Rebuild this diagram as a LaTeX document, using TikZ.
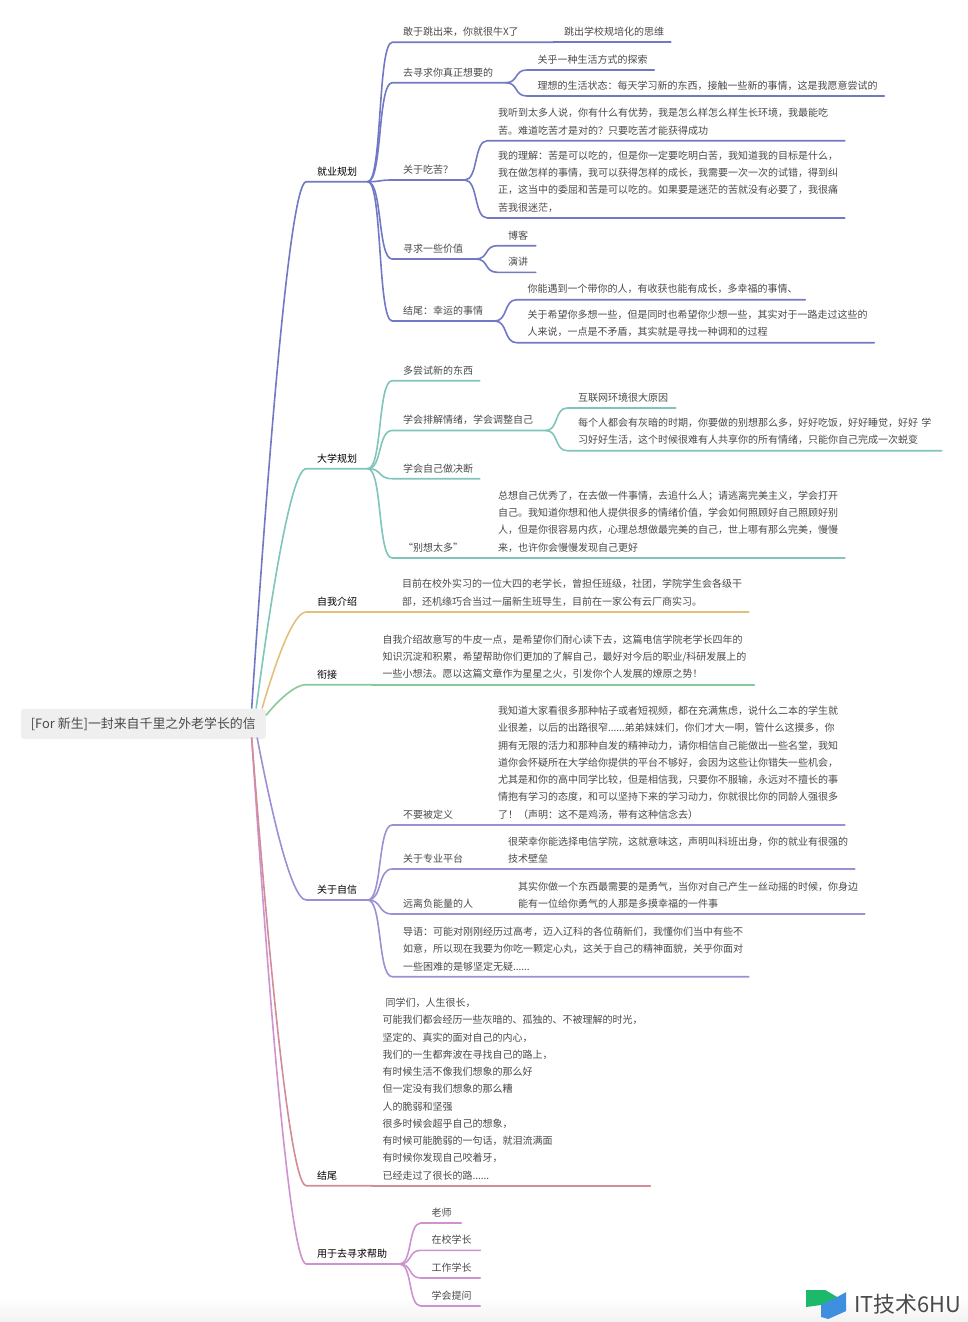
\documentclass[tikz,border=0pt]{standalone}
\usepackage{fontspec}
\setmainfont{Noto Sans CJK SC}
\usepackage{xcolor}
\usetikzlibrary{calc}
\definecolor{textgray}{HTML}{4A4A4A}
\definecolor{rootfill}{HTML}{EFEFEF}
\definecolor{linework}{HTML}{7179C4}
\definecolor{linecollege}{HTML}{80C4BA}
\definecolor{lineself}{HTML}{E2C07C}
\definecolor{linebridge}{HTML}{88C99A}
\definecolor{linefaith}{HTML}{9C90D4}
\definecolor{lineend}{HTML}{D18C98}
\definecolor{linehelp}{HTML}{CF92D0}
\definecolor{logogreen}{HTML}{1DB96A}
\definecolor{logoblue}{HTML}{3F8FE0}
\tikzset{
  topic/.style={anchor=south west,inner xsep=10pt,inner ysep=5pt,align=left,text=textgray,
    font=\fontsize{10}{17.25}\selectfont},
  maintopic/.style={topic,text=black},
  link/.style={to path={
    .. controls ($(\tikztostart)!.6!(\tikztostart-|\tikztotarget)$)
    and ($(\tikztotarget)!.6!(\tikztotarget-|\tikztostart)$) .. (\tikztotarget)}},
  trunk/.style={to path={
    .. controls ($(\tikztostart)!.28!(\tikztotarget)-.1*(\tikztotarget)+.1*(\tikztotarget-|\tikztostart)$)
    and ($(\tikztotarget)!.35!(\tikztotarget-|\tikztostart)$) .. (\tikztotarget)}}
}

\begin{document}
\begin{tikzpicture}[x=1pt,y=-1pt,line width=1.6pt,line cap=round]
  \useasboundingbox (0.8,0) rectangle (968.8,1322);
  \shade[top color=white,bottom color=black!5,draw=none] (0.8,1298) rectangle (968.8,1322);
  \node[fill=rootfill,rounded corners=3pt,minimum width=245pt,minimum height=30pt,anchor=north west,
    inner sep=0pt,text=textgray,font=\fontsize{12.9}{15}\selectfont] (root) at (20.8,708)
    {[For 新生]一封来自千里之外老学长的信};
  \coordinate (rootw) at (252.5,708);
  \coordinate (rootc) at (257,708);
  \coordinate (roots) at (263,708);
  \coordinate (rootb) at (267,715);
  \coordinate (rootf) at (258,738);
  \coordinate (roote) at (252.5,738);

  % first level
  \node[maintopic,text width=40pt] (jiuye) at (307,181.7) {就业规划};
  \node[maintopic,text width=40pt] (daxue) at (307,468.7) {大学规划};
  \node[maintopic,text width=65pt] (ziwo) at (307,612) {自我介绍};
  \node[maintopic,text width=45pt] (xianjie) at (307,684.7) {衔接};
  \node[maintopic,text width=40pt] (zixin) at (307,900) {关于自信};
  \node[maintopic,text width=45pt] (jiewei) at (307,1185.7) {结尾};
  \node[maintopic,text width=72pt] (qiuzhu) at (307,1264) {用于去寻求帮助};

  % jiuye branch
  \node[topic,text width=141pt] (gan) at (393,42.3) {敢于跳出来，你就很牛X了};
  \node[topic,text width=96pt] (tiaochu) at (554,42.3) {跳出学校规培化的思维};
  \node[topic,text width=92pt] (quxun) at (393,82.7) {去寻求你真正想要的};
  \node[topic,text width=106pt] (guanhu) at (527.5,70) {关乎一种生活方式的探索};
  \node[topic,text width=336pt] (lixiang) at (527.5,96) {理想的生活状态：每天学习新的东西，接触一些新的事情，这是我愿意尝试的};
  \node[topic,text width=51pt] (chiku) at (393,180) {关于吃苦？};
  \node[topic,text width=336pt] (tingdao) at (488,140.7) {我听到太多人说，你有什么有优势，我是怎么样怎么样生长环境，我最能吃\\苦。难道吃苦才是对的？只要吃苦才能获得成功};
  \node[topic,text width=336pt] (lijie) at (488,218) {我的理解：苦是可以吃的，但是你一定要吃明白苦，我知道我的目标是什么，\\我在做怎样的事情，我可以获得怎样的成长，我需要一次一次的试错，得到纠\\正，这当中的委屈和苦是可以吃的。如果要是迷茫的苦就没有必要了，我很痛\\苦我很迷茫，};
  \node[topic,text width=62pt] (jiazhi) at (393,259) {寻求一些价值};
  \node[topic,text width=17pt] (boke) at (498,245.7) {博客};
  \node[topic,text width=17pt] (yanjiang) at (498,272.3) {演讲};
  \node[topic,text width=81pt] (xingyun) at (393,321) {结尾：幸运的事情};
  \node[topic,text width=267pt] (yudao) at (517.5,299.7) {你能遇到一个带你的人，有收获也能有成长，多幸福的事情、};
  \node[topic,text width=336pt] (xiwang) at (517.5,342.7) {关于希望你多想一些，但是同时也希望你少想一些，其实对于一路走过这些的\\人来说，一点是不矛盾，其实就是寻找一种调和的过程};

  % daxue branch
  \node[topic,text width=66pt] (changshi) at (393,380.7) {多尝试新的东西};
  \node[topic,text width=132pt] (paijie) at (393,430.5) {学会排解情绪，学会调整自己};
  \node[topic,text width=87pt] (hulian) at (568,408) {互联网环境很大原因};
  \node[topic,text width=353pt] (huian) at (568,450.7) {每个人都会有灰暗的时期，你要做的别想那么多，好好吃饭，好好睡觉，好好~学\\习好好生活，这个时候很难有人共享你的所有情绪，只能你自己完成一次蜕变};
  \node[topic,text width=66pt] (juece) at (393,478.7) {学会自己做决断};
  \node[topic,text width=75pt] (biexiang) at (393,558) {“别想太多”};
  \node[topic,text width=336pt] (wanmei) at (488,558) {总想自己优秀了，在去做一件事情，去追什么人；请逃离完美主义，学会打开\\自己。我知道你想和他人提供很多的情绪价值，学会如何照顾好自己照顾好别\\人，但是你很容易内疚，心理总想做最完美的自己，世上哪有那么完美，慢慢\\来，也许你会慢慢发现自己更好};

  % self and bridge text
  \node[topic,text width=336pt] (shixi) at (392,612) {目前在校外实习的一位大四的老学长，曾担任班级，社团，学院学生会各级干\\部，还机缘巧合当过一届新生班导生，目前在一家公有云厂商实习。};
  \node[topic,text width=361pt] (mudi) at (372.5,684.7) {自我介绍故意写的牛皮一点，是希望你们耐心读下去，这篇电信学院老学长四年的\\知识沉淀和积累，希望帮助你们更加的了解自己，最好对今后的职业/科研发展上的\\一些小想法。愿以这篇文章作为星星之火，引发你个人发展的燎原之势！};

  % zixin branch
  \node[topic,text width=75pt] (dingyi) at (393,825) {不要被定义};
  \node[topic,text width=336pt] (tiezi) at (488,825) {我知道大家看很多那种帖子或者短视频，都在充满焦虑，说什么二本的学生就\\业很差，以后的出路很窄......弟弟妹妹们，你们才大一啊，管什么这摸多，你\\拥有无限的活力和那种自发的精神动力，请你相信自己能做出一些名堂，我知\\道你会怀疑所在大学给你提供的平台不够好，会因为这些让你错失一些机会，\\尤其是和你的高中同学比较，但是相信我，只要你不服输，永远对不擅长的事\\情抱有学习的态度，和可以坚持下来的学习动力，你就很比你的同龄人强很多\\了！（声明：这不是鸡汤，带有这种信念去）};
  \node[topic,text width=85pt] (pingtai) at (393,869) {关于专业平台};
  \node[topic,text width=336pt] (dianxin) at (498,869) {很荣幸你能选择电信学院，这就意味这，声明叫科班出身，你的就业有很强的\\技术壁垒};
  \node[topic,text width=95pt] (yuanli) at (393,914) {远离负能量的人};
  \node[topic,text width=336pt] (yongqi) at (508,914) {其实你做一个东西最需要的是勇气，当你对自己产生一丝动摇的时候，你身边\\能有一位给你勇气的人那是多摸幸福的一件事};
  \node[topic,text width=335pt] (daoyu) at (393,976.7) {导语：可能对刚刚经历过高考，迈入辽科的各位萌新们，我懂你们当中有些不\\如意，所以现在我要为你吃一颗定心丸，这关于自己的精神面貌，关乎你面对\\一些困难的是够坚定无疑......};

  % ending text
  \node[topic,text width=257pt] (rensheng) at (372.5,1185.7) {\hspace*{3pt}同学们，人生很长，\\可能我们都会经历一些灰暗的、孤独的、不被理解的时光，\\坚定的、真实的面对自己的内心，\\我们的一生都奔波在寻找自己的路上，\\有时候生活不像我们想象的那么好\\但一定没有我们想象的那么糟\\人的脆弱和坚强\\很多时候会超乎自己的想象，\\有时候可能脆弱的一句话，就泪流满面\\有时候你发现自己咬着牙，\\已经走过了很长的路......};

  % qiuzhu branch
  \node[topic,text width=19pt] (laoshi) at (421.5,1223) {老师};
  \node[topic,text width=38pt] (zaixiao) at (421.5,1250.3) {在校学长};
  \node[topic,text width=38pt] (gongzuo) at (421.5,1278) {工作学长};
  \node[topic,text width=38pt] (tiwen) at (421.5,1306) {学会提问};

  % connectors
  \draw[linework] (rootw) to[trunk] (jiuye.south west) -- (jiuye.south east);
  \draw[linecollege] (rootc) to[trunk] (daxue.south west) -- (daxue.south east);
  \draw[lineself] (roots) to[trunk] (ziwo.south west) -- (ziwo.south east);
  \draw[linebridge] (rootb) to[trunk] (xianjie.south west) -- (xianjie.south east);
  \draw[linefaith] (rootf) to[trunk] (zixin.south west) -- (zixin.south east);
  \draw[linehelp] (roote) to[trunk] (qiuzhu.south west) -- (qiuzhu.south east);
  \draw[lineend] (roote) to[trunk] (jiewei.south west) -- (jiewei.south east);
  \foreach \a/\b in {jiuye/gan,gan/tiaochu,jiuye/quxun,quxun/guanhu,quxun/lixiang,jiuye/chiku,chiku/tingdao,chiku/lijie,jiuye/jiazhi,jiazhi/boke,jiazhi/yanjiang,jiuye/xingyun,xingyun/yudao,xingyun/xiwang}
    \draw[linework] (\a.south east) to[link] (\b.south west) -- (\b.south east);
  \foreach \a/\b in {daxue/changshi,daxue/paijie,paijie/hulian,paijie/huian,daxue/juece,daxue/biexiang,biexiang/wanmei}
    \draw[linecollege] (\a.south east) to[link] (\b.south west) -- (\b.south east);
  \draw[lineself] (ziwo.south east) to[link] (shixi.south west) -- (shixi.south east);
  \draw[linebridge] (xianjie.south east) to[link] (mudi.south west) -- (mudi.south east);
  \foreach \a/\b in {zixin/dingyi,dingyi/tiezi,zixin/pingtai,pingtai/dianxin,zixin/yuanli,yuanli/yongqi,zixin/daoyu}
    \draw[linefaith] (\a.south east) to[link] (\b.south west) -- (\b.south east);
  \draw[lineend] (jiewei.south east) to[link] (rensheng.south west) -- (rensheng.south east);
  \foreach \b in {laoshi,zaixiao,gongzuo,tiwen}
    \draw[linehelp] (qiuzhu.south east) to[link] (\b.south west) -- (\b.south east);

  % watermark
  \fill[logogreen] (807,1290) -- (826,1290) -- (838,1297) -- (838,1310) -- (822,1305) -- (807,1307) -- cycle;
  \fill[logoblue] (822,1305) -- (838,1297) -- (847,1292) -- (847,1311) -- (829,1319) -- (822,1317) -- cycle;
  \node[anchor=west,inner sep=0pt,text=textgray,font=\fontsize{21.8}{25}\selectfont] (logotext) at (854.5,1304) {IT技术6HU};
\end{tikzpicture}
\end{document}
